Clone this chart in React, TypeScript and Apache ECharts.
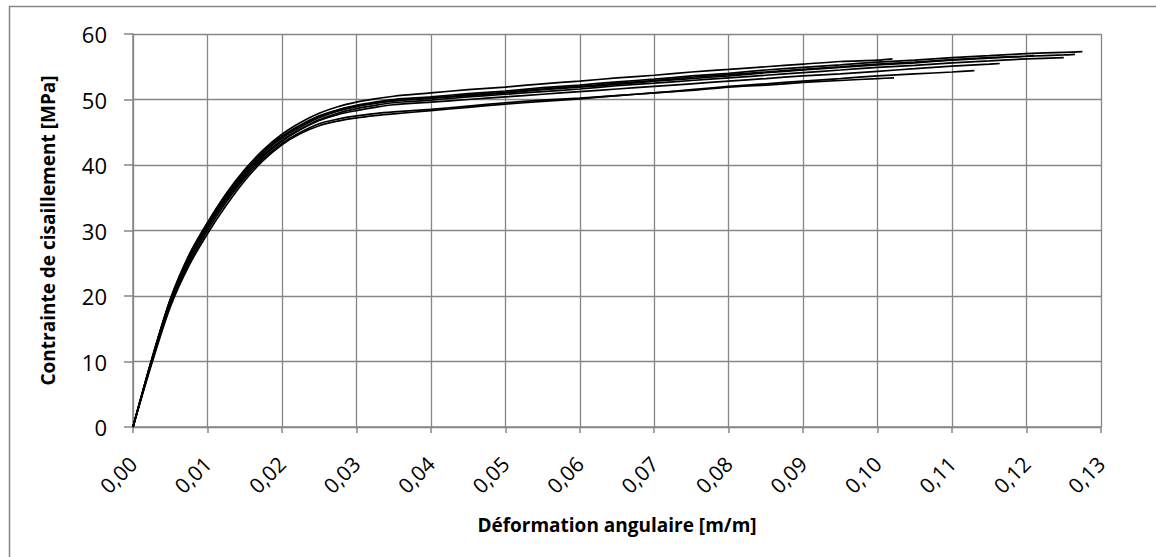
import React, { useEffect, useRef } from "react";
import * as echarts from "echarts";

// Shared strain grid (m/m)
const strainGrid = [
  0, 0.0025, 0.005, 0.0075, 0.01, 0.0125, 0.015, 0.0175, 0.02, 0.0225, 0.025, 0.0275,
  0.03, 0.0325, 0.035, 0.04, 0.045, 0.05, 0.055, 0.06, 0.065, 0.07, 0.075, 0.08, 0.085, 0.09,
  0.095, 0.1, 0.105, 0.11, 0.115, 0.12, 0.125,
];

// Shear stress (MPa) per specimen, on strainGrid, plus the last point of each test
const specimenC = [0, 10.3, 19.5, 26.2, 31.2, 35.6, 39.3, 42.3, 44.7, 46.5, 47.9, 48.9, 49.6, 50.1, 50.5, 51.0, 51.5, 51.9, 52.4, 52.8, 53.3, 53.7, 54.2, 54.6, 55.0, 55.4, 55.8, 56.0];
const endC = [0.102, 56.2];
const specimenF = [0, 10.2, 19.3, 26.0, 31.0, 35.3, 38.9, 41.9, 44.3, 46.0, 47.4, 48.4, 49.1, 49.6, 50.0, 50.4, 50.9, 51.3, 51.8, 52.2, 52.7, 53.1, 53.6, 54.0, 54.5, 54.9, 55.3, 55.7, 56.0, 56.4, 56.7, 57.0, 57.2];
const endF = [0.1275, 57.3];
const specimenG = [0, 10.1, 19.2, 25.8, 30.8, 35.1, 38.8, 41.8, 44.1, 45.8, 47.2, 48.2, 48.9, 49.4, 49.8, 50.2, 50.7, 51.1, 51.6, 52.0, 52.5, 52.9, 53.4, 53.8, 54.2, 54.6, 55.0, 55.4, 55.7, 56.1, 56.4, 56.6];
const endG = [0.121, 56.7];
const specimenE = [0, 10.0, 19.0, 25.6, 30.6, 34.9, 38.5, 41.5, 43.8, 45.5, 46.9, 47.9, 48.6, 49.1, 49.5, 49.9, 50.4, 50.8, 51.2, 51.6, 52.1, 52.5, 52.9, 53.3, 53.7, 54.1, 54.5, 54.9, 55.2, 55.6, 55.9, 56.2];
const endE = [0.125, 56.4];
const specimenH = [0, 10.2, 19.4, 26.1, 31.1, 35.4, 39.1, 42.0, 44.4, 46.1, 47.5, 48.4, 49.0, 49.5, 49.8, 50.2, 50.6, 51.0, 51.5, 51.9, 52.3, 52.8, 53.2, 53.6, 54.1, 54.5, 54.9, 55.3, 55.6, 56.0, 56.3, 56.6, 56.8];
const endH = [0.1265, 56.9];
const specimenD = [0, 10.0, 18.9, 25.4, 30.4, 34.7, 38.3, 41.3, 43.6, 45.4, 46.8, 47.7, 48.3, 48.8, 49.2, 49.6, 50.0, 50.4, 50.8, 51.2, 51.6, 52.0, 52.4, 52.8, 53.2, 53.6, 53.9, 54.3, 54.7, 55.1, 55.4];
const endD = [0.1164, 55.5];
const specimenA = [0, 9.8, 18.6, 25.0, 30.0, 34.3, 38.0, 41.0, 43.3, 45.0, 46.3, 47.0, 47.5, 47.85, 48.1, 48.5, 49.0, 49.5, 49.9, 50.2, 50.6, 51.0, 51.4, 51.9, 52.2, 52.6, 52.9, 53.2];
const endA = [0.1022, 53.3];
const specimenB = [0, 9.6, 18.3, 24.6, 29.5, 33.8, 37.6, 40.7, 43.1, 44.8, 46.0, 46.7, 47.2, 47.55, 47.8, 48.3, 48.8, 49.3, 49.7, 50.1, 50.6, 51.0, 51.5, 52.0, 52.4, 52.8, 53.2, 53.6, 53.9, 54.2];
const endB = [0.113, 54.4];

const xTickLabels = ["0,00", "0,01", "0,02", "0,03", "0,04", "0,05", "0,06", "0,07", "0,08", "0,09", "0,10", "0,11", "0,12", "0,13"];
const yTickLabels = ["0", "10", "20", "30", "40", "50", "60"];

const specimens = [
  [specimenA, endA], [specimenB, endB], [specimenD, endD], [specimenE, endE],
  [specimenH, endH], [specimenG, endG], [specimenF, endF], [specimenC, endC],
];

const FONT = "'Open Sans', sans-serif";
const GRAY = "#868686";

export default function App() {
  const ref = useRef<HTMLDivElement>(null);
  useEffect(() => {
    if (!ref.current) return;
    const chart = echarts.init(ref.current, undefined, { renderer: "svg" });
    const series = specimens.map(([ys, end]: any, i) => ({
      type: "line",
      name: "Éprouvette " + (i + 1),
      data: [...ys.map((y: number, k: number) => [strainGrid[k], y]), end],
      showSymbol: false,
      symbol: "none",
      smooth: 0.3,
      lineStyle: { color: "#000", width: 1.7 },
      silent: true,
    }));
    chart.setOption({
      animation: false,
      backgroundColor: "#fff",
      grid: { left: 133, right: 55, top: 34, bottom: 130 },
      xAxis: {
        type: "value",
        min: 0,
        max: 0.13,
        interval: 0.01,
        name: "Déformation angulaire [m/m]",
        nameLocation: "middle",
        nameGap: 88,
        nameTextStyle: { fontFamily: FONT, fontWeight: "bold", fontSize: 19, color: "#000" },
        axisLine: { show: true, onZero: false, lineStyle: { color: GRAY, width: 1.5 } },
        axisTick: { show: true, inside: false, length: 6, lineStyle: { color: GRAY, width: 1.5 } },
        splitLine: { show: true, lineStyle: { color: GRAY, width: 1.3 } },
        axisLabel: {
          rotate: 45,
          margin: 33,
          fontFamily: FONT,
          fontSize: 21,
          color: "#000",
          formatter: (v: number) => xTickLabels[Math.round(v * 100)],
        },
      },
      yAxis: {
        type: "value",
        min: 0,
        max: 60,
        interval: 10,
        name: "Contrainte de cisaillement [MPa]",
        nameLocation: "middle",
        nameGap: 76,
        nameRotate: 90,
        nameTextStyle: { fontFamily: FONT, fontWeight: "bold", fontSize: 19, color: "#000" },
        axisLine: { show: true, lineStyle: { color: GRAY, width: 1.5 } },
        axisTick: { show: true, inside: false, length: 9, lineStyle: { color: GRAY, width: 1.5 } },
        splitLine: { show: true, lineStyle: { color: GRAY, width: 1.3 } },
        axisLabel: {
          margin: 26,
          fontFamily: FONT,
          fontSize: 22,
          color: "#000",
          formatter: (v: number) => yTickLabels[Math.round(v / 10)],
        },
      },
      graphic: [
        {
          type: "rect",
          left: 7,
          top: 4,
          shape: { x: 0, y: 0, width: 1165, height: 570 },
          style: { fill: "none", stroke: GRAY, lineWidth: 1.5 },
          silent: true,
          z: -1,
        },
      ],
      series,
    });
    return () => chart.dispose();
  }, []);
  return (
    <div
      ref={ref}
      style={{ position: "fixed", left: 0, top: 0, width: 1156, height: 557 }}
    />
  );
}
